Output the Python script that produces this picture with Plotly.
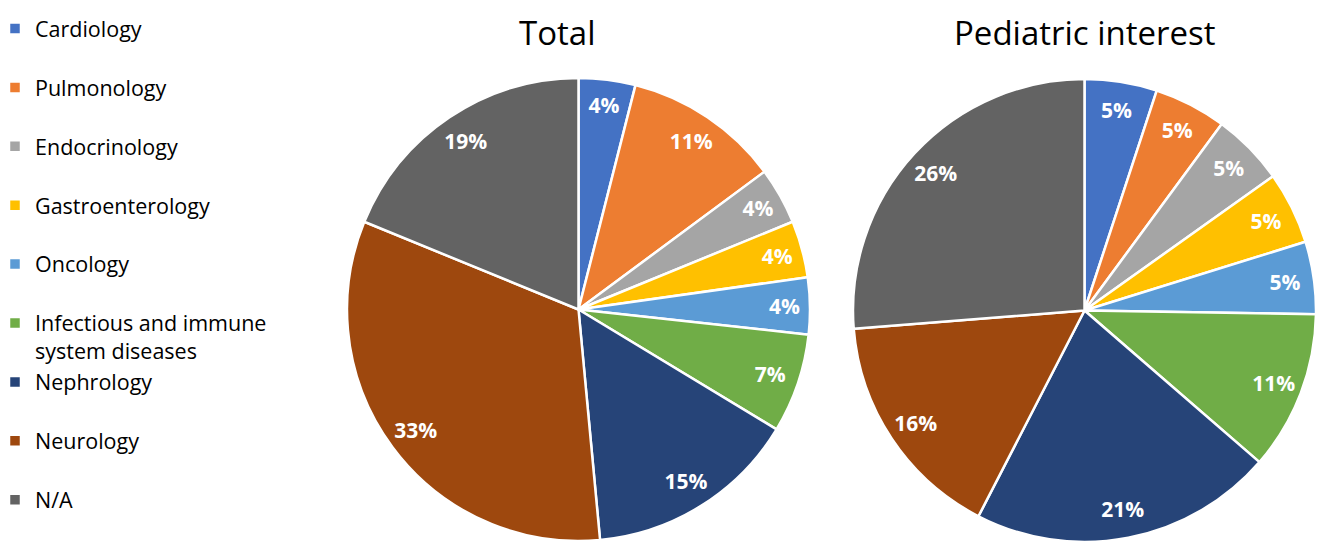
import plotly.graph_objects as go

# slice labels
specialties = ["Cardiology", "Pulmonology", "Endocrinology", "Gastroenterology", "Oncology",
               "Infectious and immune<br>system diseases", "Nephrology", "Neurology", "N/A"]

# percentages printed on the slices
total_pct = [4, 11, 4, 4, 4, 7, 15, 33, 19]
pediatric_pct = [5, 5, 5, 5, 5, 11, 21, 16, 26]

colors = ["#4472C4", "#ED7D31", "#A5A5A5", "#FFC000", "#5B9BD5",
          "#70AD47", "#264478", "#9E480E", "#636363"]

titles = ["Total", "Pediatric interest"]

W, H = 1325, 551

# every legend entry gets two lines so the rows are evenly spaced like the original
labels = [s if "<br>" in s else s + "<br> " for s in specialties]

# pie boxes in pixels (left, top, size); page body adds 8px offset
boxes = [(339, 70, 463), (845, 71, 463)]
title_x = [549, 1077]


def domain(box):
    left, top, size = box
    return dict(x=[left / W, (left + size) / W], y=[1 - (top + size) / H, 1 - top / H])


fig = go.Figure()
for i, vals in enumerate([total_pct, pediatric_pct]):
    d = domain(boxes[i])
    fig.add_trace(go.Pie(
        labels=labels, values=vals, domain=d, sort=False, direction="clockwise", rotation=0,
        marker=dict(colors=colors, line=dict(color="white", width=2.5)),
        textinfo="none", hoverinfo="label+value", showlegend=(i == 0),
    ))
    # transparent ring on top, only to put the percentages near the rim
    fig.add_trace(go.Pie(
        labels=labels, values=vals, domain=d, sort=False, direction="clockwise", rotation=0,
        hole=0.75, marker=dict(colors=["rgba(0,0,0,0)"] * len(vals), line=dict(width=0)),
        texttemplate="%{value}%", textposition="inside", insidetextorientation="horizontal",
        textfont=dict(family="Open Sans", size=21, color="white", weight="bold"),
        hoverinfo="skip", showlegend=False,
    ))

for i, t in enumerate(titles):
    fig.add_annotation(text=t, x=title_x[i] / W, y=1, xref="paper", yref="paper",
                       xanchor="center", yanchor="top", showarrow=False,
                       font=dict(family="Open Sans", size=33, color="black"))

fig.update_layout(
    width=W, height=H,
    margin=dict(l=0, r=0, t=0, b=0, autoexpand=False),
    paper_bgcolor="white", plot_bgcolor="white",
    legend=dict(x=-13 / W, y=1, xanchor="left", yanchor="top", valign="top",
                font=dict(family="Open Sans", size=21.5, color="black"),
                bgcolor="rgba(0,0,0,0)", traceorder="normal"),
)

fig.write_html("out.html")
